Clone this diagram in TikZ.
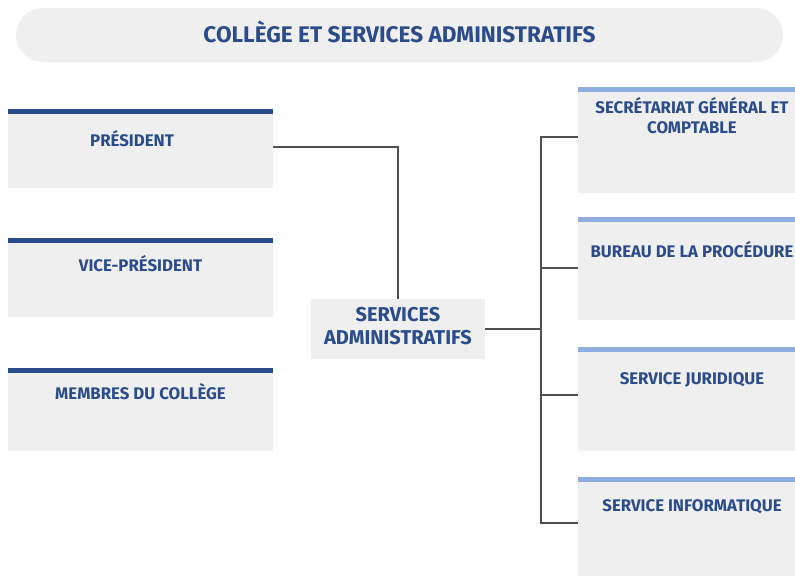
\documentclass[tikz,border=0pt]{standalone}
\usepackage{fontspec}
\setmainfont{Fira Sans}
\definecolor{navy}{HTML}{2B4C8A}
\definecolor{lightbar}{HTML}{8EADE0}
\definecolor{boxgray}{HTML}{EFEFEF}
\definecolor{linegray}{HTML}{505050}
\begin{document}
\begin{tikzpicture}[x=1pt,y=-1pt,
  box/.style={fill=boxgray, draw=none, inner sep=0pt, minimum width=#1},
  lbl/.style={text=navy, font=\bfseries\fontsize{16.8}{20}\selectfont, align=center, inner sep=0pt},
  conn/.style={draw=linegray, line width=1.3pt}]
\useasboundingbox (0,0) rectangle (795,576);
% title
\node[fill=boxgray, rounded corners=27pt, minimum width=767pt, minimum height=54pt, inner sep=0pt] (title) at (399.5,35) {};
\node[text=navy, font=\bfseries\fontsize{22.6}{26}\selectfont, inner sep=0pt] (titletext) at (399.5,32) {COLLÈGE ET SERVICES ADMINISTRATIFS};
% left boxes
\node[box=265pt, minimum height=74pt] (pres) at (140.5,151) {};
\node[box=265pt, minimum height=74pt] (vice) at (140.5,280) {};
\node[box=265pt, minimum height=78pt] (memb) at (140.5,412) {};
\foreach \n in {pres,vice,memb}
  \draw[navy, line width=4.5pt] ([yshift=2.25pt]\n.north west) -- ([yshift=2.25pt]\n.north east);
\node[lbl] (prest) at (132,139) {PRÉSIDENT};
\node[lbl] (vicet) at (140.5,264) {VICE-PRÉSIDENT};
\node[lbl] (membt) at (140.5,392) {MEMBRES DU COLLÈGE};
% center
\node[box=174pt, minimum height=60pt] (svc) at (398,329) {};
\node[text=navy, font=\bfseries\fontsize{20}{23}\selectfont, align=center, inner sep=0pt] (svct) at (398,326) {SERVICES\\ADMINISTRATIFS};
% right boxes
\node[box=217pt, minimum height=101pt] (sg) at (686.5,142.5) {};
\node[box=217pt, minimum height=98pt] (bur) at (686.5,271) {};
\node[box=217pt, minimum height=99pt] (jur) at (686.5,401.5) {};
\node[box=217pt, minimum height=94pt] (inf) at (686.5,529) {};
\foreach \n in {sg,bur,jur,inf}
  \draw[lightbar, line width=5pt] ([yshift=2.5pt]\n.north west) -- ([yshift=2.5pt]\n.north east);
\node[lbl] (sgt) at (692,116) {SECRÉTARIAT GÉNÉRAL ET\\COMPTABLE};
\node[lbl] (burt) at (692,250) {BUREAU DE LA PROCÉDURE};
\node[lbl] (jurt) at (692,380) {SERVICE JURIDIQUE};
\node[lbl] (inft) at (692,507) {SERVICE INFORMATIQUE};
% connectors
\draw[conn] ([yshift=4pt]pres.east) -| (svc.north);
\coordinate (j) at (541,329);
\coordinate (t1) at (541,137);
\coordinate (t2) at (541,268);
\coordinate (t3) at (541,395);
\coordinate (t4) at (541,523);
\draw[conn] (svc.east) -- (j);
\draw[conn] (sg.west |- t1) -- (t1) -- (t4) -- (inf.west |- t4);
\draw[conn] (t2) -- (bur.west |- t2);
\draw[conn] (t3) -- (jur.west |- t3);
\end{tikzpicture}
\end{document}
